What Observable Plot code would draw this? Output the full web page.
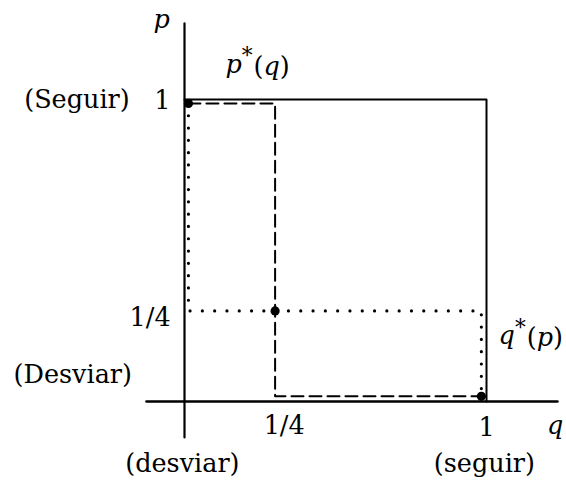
<!DOCTYPE html>
<html>
<head>
<meta charset="utf-8">
<script src="https://cdn.jsdelivr.net/npm/d3@7"></script>
<script src="https://cdn.jsdelivr.net/npm/@observablehq/plot@0.6"></script>
<style>
  html, body { margin: 0; padding: 0; background: #fff; }
  #chart svg text { font-family: "DejaVu Serif" !important; }
</style>
</head>
<body>
<div id="chart"></div>
<script>
// Axis extents (q horizontal, p vertical)
const qAxisExtent = [-0.126, 1.235];
const pAxisExtent = [-0.119, 1.252];

// Solid frontier (unit square top/right)
const frontierQ = [0, 1, 1];
const frontierP = [1, 1, 0];

// p*(q): dashed best response
const bestPq = [0.013, 0.3, 0.3, 0.983];
const bestPp = [0.987, 0.987, 0.017, 0.017];

// q*(p): dotted best response
const bestQq = [0.013, 0.013, 0.983, 0.983];
const bestQp = [0.987, 0.3, 0.3, 0.017];

// Equilibria
const eqQ = [0.013, 0.3, 0.983];
const eqP = [0.987, 0.3, 0.017];

// Labels
const labelText   = ["p", "p*(q)", "1", "(Seguir)", "1/4", "(Desviar)", "q*(p)", "1/4", "1", "q", "(desviar)", "(seguir)"];
const labelQ      = [-0.076, 0.242, -0.073, -0.356, -0.046, -0.37, 1.04, 0.33, 1.0, 1.2, -0.007, 0.993];
const labelP      = [1.238, 1.088, 0.97, 0.973, 0.25, 0.06, 0.189, -0.106, -0.113, -0.106, -0.235, -0.235];
const labelAnchor = ["middle", "middle", "middle", "middle", "end", "middle", "start", "middle", "middle", "start", "middle", "middle"];
const labelItalic = [true, false, false, false, false, false, false, false, false, true, false, false];

const rows = (qs, ps) => qs.map((q, i) => ({q, p: ps[i]}));
const labels = labelText.map((t, i) => ({t, q: labelQ[i], p: labelP[i], a: labelAnchor[i], it: labelItalic[i]}));

const textMark = (data) => Plot.text(data, {
  x: "q", y: "p", text: "t", textAnchor: data[0].a, lineAnchor: "bottom",
  fontFamily: "DejaVu Serif", fontSize: 25.5, fill: "black",
  fontStyle: data[0].it ? "italic" : "normal"
});

const chart = Plot.plot({
  width: 566, height: 482,
  marginLeft: 0, marginRight: 0, marginTop: 0, marginBottom: 0,
  x: {domain: [0, 1], range: [184, 486], axis: null},
  y: {domain: [0, 1], range: [401, 99], axis: null},
  marks: [
    Plot.line(rows(qAxisExtent, [0, 0]), {x: "q", y: "p", stroke: "black", strokeWidth: 2.5}),
    Plot.line(rows([0, 0], pAxisExtent), {x: "q", y: "p", stroke: "black", strokeWidth: 2.2}),
    Plot.line(rows(frontierQ, frontierP), {x: "q", y: "p", stroke: "black", strokeWidth: 2}),
    Plot.line(rows(bestPq, bestPp), {x: "q", y: "p", stroke: "black", strokeWidth: 2, strokeDasharray: "12 6"}),
    Plot.line(rows(bestQq, bestQp), {x: "q", y: "p", stroke: "black", strokeWidth: 3.2, strokeDasharray: "0 12.3", strokeLinecap: "round"}),
    Plot.dot(rows(eqQ, eqP), {x: "q", y: "p", r: 4.6, fill: "black"}),
    ...labels.map(l => textMark([l]))
  ]
});

// Math-style rendering for p*(q) and q*(p)
d3.select(chart).selectAll("text").each(function() {
  const s = this.textContent;
  if (s === "p*(q)" || s === "q*(p)") {
    const a = s[0], b = s[3];
    const el = d3.select(this);
    el.text(null);
    el.append("tspan").attr("font-style", "italic").text(a);
    el.append("tspan").attr("dy", "-0.45em").attr("font-size", "0.85em").text("*");
    el.append("tspan").attr("dy", "0.45em").attr("dx", "1").text("(");
    el.append("tspan").attr("font-style", "italic").text(b);
    el.append("tspan").text(")");
  }
});

document.getElementById("chart").appendChild(chart);
</script>
</body>
</html>
